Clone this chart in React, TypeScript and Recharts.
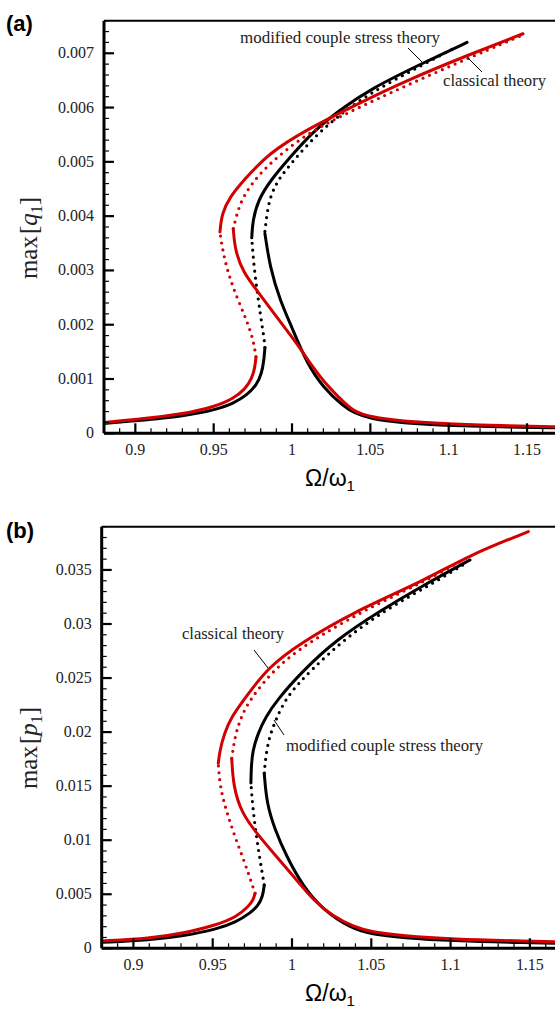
import { LineChart, Line, XAxis, YAxis, ReferenceLine } from "recharts";

// frequency ratio Ω/ω1 vs amplitude, [x, y] pairs
// panel (a): max[q1]
const aMcsLower = [[0.88, 0.00018], [0.8994, 0.00023], [0.9306, 0.00031], [0.9519, 0.00044], [0.9625, 0.00055], [0.9711, 0.0007], [0.9774, 0.00089], [0.9806, 0.0011], [0.9821, 0.00135], [0.9827, 0.00158]];
const aMcsMid = [[0.9827, 0.00158], [0.9823, 0.00172], [0.981, 0.00196], [0.9785, 0.00245], [0.9757, 0.00306], [0.9743, 0.0036]];
const aMcsUpper = [[0.9743, 0.0036], [0.9749, 0.00392], [0.9783, 0.00429], [0.9861, 0.00466], [1.0008, 0.00515], [1.0121, 0.00552], [1.0301, 0.00595], [1.0504, 0.00635], [1.0842, 0.00683], [1.1117, 0.0072]];
const aMcsUpperDot = [[0.9827, 0.00372], [0.985, 0.00429], [0.99, 0.0046], [0.994, 0.00478], [1.0098, 0.00533], [1.0279, 0.00582], [1.0504, 0.00628], [1.0842, 0.0068], [1.1045, 0.00711]];
const aMcsRight = [[1.17, 0.0001], [1.15, 0.00011], [1.1, 0.00014], [1.07, 0.00019], [1.05, 0.00027], [1.04, 0.00037], [1.0327, 0.0005], [1.02, 0.00084], [1.0094, 0.00129], [0.9998, 0.00196], [0.9923, 0.00245], [0.9859, 0.00306], [0.9827, 0.00368]];

const aClsLower = [[0.88, 0.0002], [0.8994, 0.00025], [0.9306, 0.00035], [0.9519, 0.0005], [0.9625, 0.00064], [0.97, 0.00081], [0.9743, 0.001], [0.9764, 0.00122], [0.977, 0.00141]];
const aClsMid = [[0.977, 0.00141], [0.9753, 0.00172], [0.9711, 0.00208], [0.9647, 0.00251], [0.9593, 0.00294], [0.9557, 0.00337], [0.954, 0.00371]];
const aClsUpper = [[0.954, 0.00371], [0.9552, 0.00405], [0.9602, 0.00435], [0.9692, 0.00466], [0.985, 0.00516], [1.0098, 0.0056], [1.0392, 0.00603], [1.073, 0.0065], [1.1136, 0.00698], [1.1474, 0.00736]];
const aClsUpperDot = [[0.9625, 0.00377], [0.967, 0.00429], [0.976, 0.00466], [0.985, 0.00495], [1.0053, 0.00544], [1.0279, 0.0058], [1.0617, 0.00626], [1.1068, 0.00684], [1.1451, 0.00731]];
const aClsRight = [[1.17, 0.00012], [1.15, 0.00013], [1.1, 0.00017], [1.07, 0.00022], [1.05, 0.0003], [1.04, 0.0004], [1.0349, 0.00052], [1.0221, 0.00088], [1.0115, 0.00129], [1.003, 0.00166], [0.9902, 0.00214], [0.9774, 0.00264], [0.9689, 0.00296], [0.9636, 0.00337], [0.9625, 0.00377]];

// panel (b): max[p1]
const bMcsLower = [[0.88, 0.00055], [0.9105, 0.00077], [0.9315, 0.00114], [0.9525, 0.00176], [0.9651, 0.00246], [0.9735, 0.00324], [0.9787, 0.00395], [0.9815, 0.00477], [0.9825, 0.00586]];
const bMcsMid = [[0.9825, 0.00586], [0.9798, 0.00817], [0.9773, 0.01064], [0.9752, 0.0131], [0.9741, 0.0153]];
const bMcsUpper = [[0.9741, 0.0153], [0.9743, 0.0168], [0.9752, 0.0183], [0.9786, 0.0199], [0.9834, 0.0214], [0.9908, 0.023], [1.0053, 0.02544], [1.0275, 0.02852], [1.0565, 0.0313], [1.0832, 0.03361], [1.1122, 0.03592]];
const bMcsUpperDot = [[0.9825, 0.0162], [0.983, 0.01711], [0.985, 0.01927], [0.9893, 0.02096], [0.9963, 0.02328], [1.012, 0.02574], [1.0342, 0.02875], [1.061, 0.0315], [1.0877, 0.03366], [1.11, 0.03566]];
const bMcsRight = [[1.17, 0.00045], [1.15, 0.0005], [1.1, 0.0007], [1.07, 0.00098], [1.05, 0.0013], [1.0366, 0.0019], [1.0197, 0.00354], [1.0071, 0.0057], [0.9966, 0.00847], [0.9893, 0.01094], [0.984, 0.01341], [0.9825, 0.0162]];

const bClsLower = [[0.88, 0.00068], [0.9105, 0.00092], [0.9315, 0.00139], [0.9525, 0.00216], [0.9651, 0.00292], [0.9724, 0.00385], [0.9756, 0.00447], [0.9767, 0.00509]];
const bClsMid = [[0.9767, 0.00509], [0.9746, 0.00601], [0.9704, 0.00786], [0.964, 0.01032], [0.9584, 0.01279], [0.9546, 0.01495], [0.9535, 0.01711]];
const bClsUpper = [[0.9535, 0.01711], [0.9545, 0.0183], [0.9574, 0.0199], [0.9618, 0.0214], [0.9696, 0.023], [0.9852, 0.02605], [1.0053, 0.02822], [1.0387, 0.0311], [1.0832, 0.034], [1.1122, 0.0364], [1.149, 0.03854]];
const bClsUpperDot = [[0.962, 0.01758], [0.964, 0.01957], [0.9672, 0.02112], [0.9729, 0.02297], [0.9919, 0.02636], [1.0164, 0.02883], [1.0498, 0.0316], [1.0832, 0.0339], [1.11, 0.0361]];
const bClsRight = [[1.17, 0.0006], [1.15, 0.00066], [1.1, 0.00085], [1.07, 0.00115], [1.05, 0.0015], [1.039, 0.002], [1.026, 0.00292], [1.0134, 0.00447], [1.003, 0.00632], [0.9903, 0.00847], [0.9777, 0.01064], [0.9683, 0.01249], [0.963, 0.01495], [0.962, 0.01758]];

const xMajorTicks = [0.9, 0.95, 1, 1.05, 1.1, 1.15];
const aYMajorTicks = [0, 0.001, 0.002, 0.003, 0.004, 0.005, 0.006, 0.007];
const bYMajorTicks = [0, 0.005, 0.01, 0.015, 0.02, 0.025, 0.03, 0.035];

const RED = "#d20000";
const SERIF = "'Liberation Serif', 'DejaVu Serif', serif";
const SANS = "'Liberation Sans', Arial, sans-serif";

const pts = (rows: number[][]) => rows.map(([x, y]) => ({ x, y }));

function withMinors(majors: number[], lo: number, hi: number, step: number) {
  const out = [...majors];
  const n = Math.round((hi - lo) / step);
  for (let i = 0; i <= n; i++) {
    const v = lo + i * step;
    if (!majors.some((m) => Math.abs(m - v) < step / 10)) out.push(v);
  }
  return out.sort((a, b) => a - b);
}

function makeXTick(majors: number[]) {
  return (props: any) => {
    const { x, y, payload } = props;
    const m = majors.find((t) => Math.abs(t - payload.value) < 1e-6);
    const major = m !== undefined;
    return (
      <g>
        <line x1={x} x2={x} y1={y} y2={y - (major ? 10 : 5)} stroke="#000" strokeWidth={major ? 2.2 : 1.2} />
        {major && (
          <text x={x} y={y + 22} textAnchor="middle" fontFamily={SERIF} fontSize={16} fill="#222">
            {String(m)}
          </text>
        )}
      </g>
    );
  };
}

function makeYTick(majors: number[]) {
  return (props: any) => {
    const { x, y, payload } = props;
    const m = majors.find((t) => Math.abs(t - payload.value) < 1e-9);
    const major = m !== undefined;
    return (
      <g>
        <line x1={x} x2={x + (major ? 10 : 5)} y1={y} y2={y} stroke="#000" strokeWidth={major ? 2.2 : 1.2} />
        {major && (
          <text x={x - 10} y={y + 5} textAnchor="end" fontFamily={SERIF} fontSize={16} fill="#222">
            {String(m)}
          </text>
        )}
      </g>
    );
  };
}

type Branches = {
  mcs: number[][][]; // lower, mid, upper, upperDot, right
  cls: number[][][];
};

function Panel(props: {
  width: number;
  height: number;
  margin: { top: number; right: number; bottom: number; left: number };
  yMax: number;
  yMajors: number[];
  yMinorStep: number;
  branches: Branches;
}) {
  const { width, height, margin, yMax, yMajors, yMinorStep, branches } = props;
  const xTicks = withMinors(xMajorTicks, 0.88, 1.17, 0.01);
  const yTicks = withMinors(yMajors, 0, yMax, yMinorStep);
  const series = (rows: number[][][], color: string, prefix: string) =>
    rows.map((r, i) => {
      const dotted = i === 1 || i === 3;
      return (
        <Line
          key={prefix + i}
          data={pts(r)}
          dataKey="y"
          type="basis"
          stroke={color}
          strokeWidth={dotted ? 3.2 : 3}
          strokeDasharray={dotted ? "0 7" : undefined}
          strokeLinecap="round"
          dot={false}
          activeDot={false}
          isAnimationActive={false}
        />
      );
    });
  return (
    <LineChart width={width} height={height} margin={margin}>
      <XAxis
        type="number"
        dataKey="x"
        domain={[0.88, 1.17]}
        allowDataOverflow
        ticks={xTicks}
        interval={0}
        tick={makeXTick(xMajorTicks)}
        tickLine={false}
        tickSize={0}
        tickMargin={0}
        height={40}
        axisLine={{ stroke: "#000", strokeWidth: 3 }}
      />
      <YAxis
        type="number"
        domain={[0, yMax]}
        allowDataOverflow
        ticks={yTicks}
        interval={0}
        tick={makeYTick(yMajors)}
        tickLine={false}
        tickSize={0}
        tickMargin={0}
        width={70}
        axisLine={{ stroke: "#000", strokeWidth: 3 }}
      />
      <ReferenceLine y={yMax} stroke="#000" strokeWidth={2} />
      {series(branches.mcs, "#000", "m")}
      {series(branches.cls, RED, "c")}
    </LineChart>
  );
}

export default function App() {
  return (
    <div
      style={{
        position: "absolute",
        left: 0,
        top: 0,
        width: 555,
        height: 1010,
        overflow: "hidden",
        background: "#fff",
      }}
    >
      <div style={{ position: "absolute", left: 0, top: 0 }}>
        <Panel
          width={558.4}
          height={500}
          margin={{ top: 20.7, right: 0, bottom: 26.7, left: 34 }}
          yMax={0.0076}
          yMajors={aYMajorTicks}
          yMinorStep={0.0002}
          branches={{
            mcs: [aMcsLower, aMcsMid, aMcsUpper, aMcsUpperDot, aMcsRight],
            cls: [aClsLower, aClsMid, aClsUpper, aClsUpperDot, aClsRight],
          }}
        />
      </div>
      <div style={{ position: "absolute", left: 0, top: 500 }}>
        <Panel
          width={561.6}
          height={510}
          margin={{ top: 26.7, right: 0, bottom: 21.7, left: 31.7 }}
          yMax={0.039}
          yMajors={bYMajorTicks}
          yMinorStep={0.001}
          branches={{
            mcs: [bMcsLower, bMcsMid, bMcsUpper, bMcsUpperDot, bMcsRight],
            cls: [bClsLower, bClsMid, bClsUpper, bClsUpperDot, bClsRight],
          }}
        />
      </div>
      <svg
        width={555}
        height={1010}
        style={{ position: "absolute", left: 0, top: 0, pointerEvents: "none" }}
      >
        <g fontFamily={SANS} fontWeight="bold" fontSize={22} fill="#000">
          <text x={6} y={31}>(a)</text>
          <text x={6} y={538}>(b)</text>
        </g>
        <g fontFamily={SERIF} fontSize={16} fill="#222">
          <text x={240} y={43} textLength={200} lengthAdjust="spacingAndGlyphs">modified couple stress theory</text>
          <text x={443} y={86} textLength={103} lengthAdjust="spacingAndGlyphs">classical theory</text>
          <text x={182} y={639} textLength={102} lengthAdjust="spacingAndGlyphs">classical theory</text>
          <text x={286} y={751} textLength={197} lengthAdjust="spacingAndGlyphs">modified couple stress theory</text>
        </g>
        <g stroke="#000" strokeWidth={1}>
          <line x1={408} y1={48} x2={422} y2={62} />
          <line x1={468} y1={58} x2={482} y2={72} />
          <line x1={254} y1={650} x2={268} y2={668} />
          <line x1={284} y1={735} x2={274} y2={720} />
        </g>
        <text transform="translate(37,238) rotate(-90)" textAnchor="middle" fontFamily={SERIF} fontSize={25} fill="#222">
          max<tspan dx={2}>[</tspan>
          <tspan fontStyle="italic">q</tspan>
          <tspan fontSize={16} dy={5}>1</tspan>
          <tspan dy={-5}>]</tspan>
        </text>
        <text transform="translate(37,748) rotate(-90)" textAnchor="middle" fontFamily={SERIF} fontSize={25} fill="#222">
          max<tspan dx={2}>[</tspan>
          <tspan fontStyle="italic">p</tspan>
          <tspan fontSize={16} dy={5}>1</tspan>
          <tspan dy={-5}>]</tspan>
        </text>
        <text x={330} y={486} textAnchor="middle" fontFamily={SANS} fontSize={23} fill="#000">
          Ω/ω<tspan fontSize={15} dy={5}>1</tspan>
        </text>
        <text x={330} y={1001} textAnchor="middle" fontFamily={SANS} fontSize={23} fill="#000">
          Ω/ω<tspan fontSize={15} dy={5}>1</tspan>
        </text>
      </svg>
    </div>
  );
}
